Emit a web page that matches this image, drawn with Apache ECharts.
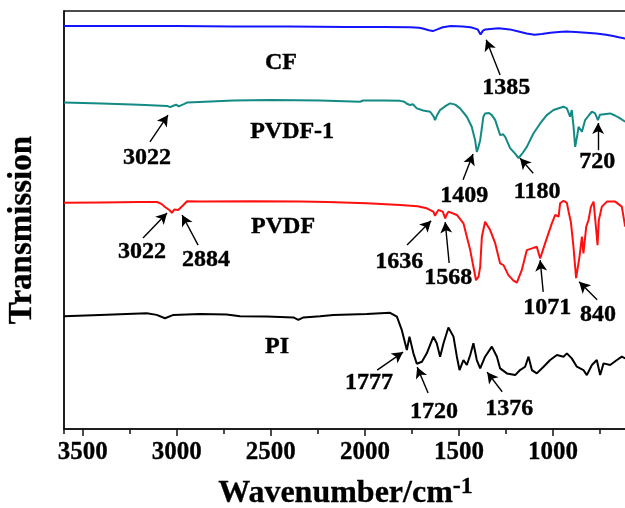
<!DOCTYPE html>
<html>
<head>
<meta charset="utf-8">
<script src="https://cdn.jsdelivr.net/npm/echarts@6/dist/echarts.min.js"></script>
<style>
  html, body { margin: 0; padding: 0; background: #fff; }
  #chart { width: 625px; height: 508px; }
</style>
</head>
<body>
<div id="chart"></div>
<script>
// spectra: [wavenumber, transmission (a.u., stacked)]
var cfData = [[3600, 96.4], [3300, 96.4], [3000, 96.4], [2700, 96.3], [2400, 96.3], [2100, 96.2], [1900, 96.2], [1760, 96.1], [1713, 96.0], [1692, 95.8], [1660, 95.4], [1639, 95.2], [1615, 95.6], [1586, 96.1], [1543, 96.4], [1480, 96.3], [1438, 96.1], [1400, 95.6], [1385, 94.4], [1372, 95.3], [1360, 95.6], [1289, 95.9], [1230, 95.6], [1183, 95.1], [1140, 94.6], [1098, 94.3], [1060, 94.5], [1014, 94.8], [970, 95.0], [929, 95.1], [880, 95.0], [823, 94.8], [770, 94.6], [717, 94.3], [680, 94.0], [650, 93.7], [616, 93.4]]

var pvdf1Data = [[3600, 78.1], [3400, 77.9], [3200, 77.6], [3052, 77.3], [3036, 77.0], [3026, 76.8], [3015, 77.4], [3004, 77.6], [2990, 77.2], [2983, 77.2], [2960, 77.8], [2946, 78.1], [2850, 78.3], [2700, 78.6], [2500, 78.7], [2238, 78.6], [2026, 78.3], [2010, 78.6], [1900, 78.6], [1813, 78.5], [1790, 78.3], [1777, 77.8], [1760, 77.5], [1745, 77.7], [1724, 76.7], [1690, 76.2], [1653, 75.9], [1635, 74.8], [1627, 73.9], [1615, 75.2], [1600, 76.3], [1570, 77.3], [1547, 77.9], [1520, 77.6], [1494, 76.7], [1458, 74.7], [1432, 72.3], [1414, 69.1], [1405, 66.3], [1396, 67.5], [1387, 69.1], [1370, 74.7], [1361, 75.5], [1340, 75.6], [1325, 75.1], [1307, 73.9], [1281, 70.3], [1265, 70.5], [1254, 69.9], [1228, 67.2], [1200, 65.8], [1183, 64.8], [1165, 65.8], [1139, 67.5], [1104, 70.7], [1068, 73.1], [1033, 75.1], [997, 76.3], [965, 76.8], [944, 77.1], [926, 76.7], [909, 74.7], [900, 76.3], [891, 72.5], [882, 67.5], [870, 70.5], [864, 72.3], [846, 71.1], [829, 73.9], [810, 75.0], [793, 75.9], [776, 75.5], [761, 73.9], [750, 75.2], [740, 75.5], [696, 75.5], [670, 75.0], [643, 74.3], [616, 73.5]]

var pvdfData = [[3600, 54.1], [3400, 54.2], [3200, 54.3], [3105, 54.3], [3080, 53.8], [3063, 53.1], [3040, 52.4], [3026, 51.7], [3014, 52.5], [3004, 52.9], [2993, 52.4], [2983, 52.2], [2965, 53.6], [2946, 54.5], [2877, 54.4], [2600, 54.5], [2345, 54.4], [2200, 54.3], [1990, 54.0], [1813, 53.6], [1720, 53.3], [1671, 52.8], [1636, 52.0], [1627, 51.0], [1618, 51.8], [1609, 52.4], [1586, 52.0], [1573, 50.4], [1565, 51.3], [1556, 52.0], [1511, 51.2], [1476, 49.2], [1458, 46.0], [1440, 42.8], [1423, 38.8], [1409, 35.6], [1396, 36.4], [1387, 38.8], [1378, 46.0], [1361, 49.6], [1334, 47.6], [1307, 44.4], [1281, 39.6], [1263, 39.2], [1237, 36.8], [1210, 35.5], [1192, 35.0], [1166, 38.0], [1139, 42.8], [1112, 43.2], [1086, 43.6], [1068, 40.8], [1042, 44.4], [1006, 49.2], [988, 51.2], [970, 50.8], [962, 54.0], [944, 54.6], [926, 54.1], [917, 52.0], [905, 49.6], [891, 43.6], [877, 36.1], [859, 41.2], [846, 46.0], [838, 42.0], [823, 48.4], [811, 50.0], [798, 53.2], [784, 54.4], [770, 47.6], [763, 44.0], [756, 50.0], [740, 53.2], [713, 54.4], [669, 54.4], [634, 53.2], [616, 48.4]]

var piData = [[3600, 27.0], [3409, 27.3], [3160, 27.7], [3107, 27.3], [3063, 26.5], [3018, 27.3], [2877, 27.5], [2735, 27.4], [2664, 27.0], [2522, 26.9], [2380, 26.7], [2354, 26.1], [2327, 26.7], [2238, 27.0], [2168, 27.3], [1990, 27.5], [1866, 27.8], [1830, 26.9], [1804, 23.7], [1777, 18.9], [1763, 22.1], [1742, 18.1], [1724, 15.6], [1697, 16.1], [1671, 18.1], [1636, 22.1], [1618, 20.5], [1600, 17.3], [1582, 20.5], [1556, 24.3], [1529, 22.1], [1511, 17.3], [1497, 14.1], [1476, 16.5], [1458, 15.3], [1440, 17.7], [1423, 20.5], [1405, 16.5], [1387, 14.5], [1361, 17.3], [1325, 19.7], [1298, 17.3], [1281, 14.5], [1245, 13.3], [1201, 12.9], [1175, 14.1], [1148, 14.9], [1130, 17.3], [1112, 14.1], [1086, 13.3], [1050, 14.9], [1015, 16.5], [979, 17.7], [944, 17.3], [926, 18.1], [900, 16.9], [873, 14.9], [838, 14.1], [820, 12.9], [793, 15.3], [767, 16.5], [749, 12.9], [731, 15.7], [696, 15.3], [660, 16.5], [634, 17.3], [616, 16.9]]

// text annotations: [wavenumber, transmission, text]
var annoLabels = [
  [2446, 87.6, 'CF'], [1249, 81.6, '1385'],
  [2387, 71.1, 'PVDF-1'], [3158, 64.8, '3022'], [1472, 55.7, '1409'], [1084, 56.7, '1180'], [765, 63.9, '720'],
  [2435, 48.3, 'PVDF'], [3185, 42.3, '3022'], [2845, 40.4, '2884'], [1818, 40.0, '1636'], [1557, 36.1, '1568'], [1031, 28.9, '1071'], [760, 27.3, '840'],
  [2467, 19.6, 'PI'], [1978, 11.0, '1777'], [1632, 4.1, '1720'], [1233, 4.8, '1376']
]
// arrows: [fromW, fromT, toW, toT]
var annoArrows = [
  [1281, 84.7, 1355, 93.1],
  [3143, 68.7, 3047, 75.1], [1478, 59.6, 1425, 65.8], [1105, 61.2, 1175, 64.8], [760, 66.7, 760, 73.2],
  [3180, 45.7, 3052, 51.7], [2887, 44.0, 2972, 51.2], [1776, 44.0, 1648, 49.8], [1552, 39.7, 1573, 49.5],
  [1052, 32.8, 1068, 40.4], [765, 30.9, 861, 35.2],
  [1935, 14.1, 1797, 18.4], [1664, 8.6, 1722, 14.8], [1270, 8.9, 1350, 13.6]
]

var font = 'Liberation Serif, Times New Roman, serif'
var chart = echarts.init(document.getElementById('chart'))

function spectrum (name, data, color) {
  return {
    name: name,
    type: 'line',
    data: data,
    showSymbol: false,
    symbol: 'none',
    lineStyle: { color: color, width: 2 },
    z: 3
  }
}

var option = {
  animation: false,
  backgroundColor: '#fff',
  grid: {
    left: 64, top: 11, bottom: 79, width: 583,
    outerBoundsMode: 'none',
    containLabel: false,
    show: true, borderColor: '#111', borderWidth: 1.5, backgroundColor: 'transparent'
  },
  xAxis: [{
    type: 'value', inverse: true, min: 500, max: 3600, interval: 500, position: 'bottom',
    axisLine: { lineStyle: { color: '#111', width: 1.5 } },
    axisTick: { inside: false, length: 7, lineStyle: { color: '#111', width: 1.5 } },
    axisLabel: {
      showMaxLabel: false, showMinLabel: false, margin: 11,
      formatter: function (v) { return String(v) },
      color: '#000', fontFamily: font, fontWeight: 'bold', fontSize: 25,
      textBorderColor: '#000', textBorderWidth: 0.3
    },
    splitLine: { show: false },
    name: 'Wavenumber/cm{sup|-1}',
    nameLocation: 'middle',
    nameGap: 46,
    nameTextStyle: {
      color: '#000', fontFamily: font, fontWeight: 'bold', fontSize: 32, padding: [0, 20, 0, 0],
      textBorderColor: '#000', textBorderWidth: 0.3,
      rich: { sup: { fontFamily: font, fontWeight: 'bold', fontSize: 24, color: '#000', verticalAlign: 'bottom', padding: [0, 0, 14, 0], textBorderColor: '#000', textBorderWidth: 0.3 } }
    }
  }, {
    type: 'value', inverse: true, min: 500, max: 3600, interval: 250, position: 'bottom',
    axisLine: { show: false },
    axisTick: { length: 5, lineStyle: { color: '#111', width: 1.5 } },
    axisLabel: { show: false },
    splitLine: { show: false }
  }],
  yAxis: {
    type: 'value', min: 0, max: 100,
    axisLine: { show: true, lineStyle: { color: '#111', width: 1.5 } },
    axisTick: { show: false },
    axisLabel: { show: false },
    splitLine: { show: false },
    name: 'Transmission',
    nameLocation: 'middle',
    nameGap: 25,
    nameTextStyle: {
      color: '#000', fontFamily: font, fontWeight: 'bold', fontSize: 33, padding: [0, 20, 0, 0],
      textBorderColor: '#000', textBorderWidth: 0.3
    }
  },
  series: [
    spectrum('CF', cfData, '#1414ff'),
    spectrum('PVDF-1', pvdf1Data, '#138a84'),
    spectrum('PVDF', pvdfData, '#ff1010'),
    spectrum('PI', piData, '#000000'),
    {
      name: 'labels',
      type: 'scatter',
      data: annoLabels,
      symbolSize: 1,
      itemStyle: { color: 'rgba(0,0,0,0)' },
      label: {
        show: true, position: 'inside', opacity: 1,
        formatter: function (p) { return p.data[2] },
        color: '#000', fontFamily: font, fontWeight: 'bold', fontSize: 24,
        textBorderColor: '#000', textBorderWidth: 0.4
      },
      markLine: {
        silent: true,
        symbol: ['none', 'arrow'],
        symbolSize: [9, 11],
        label: { show: false },
        lineStyle: { color: '#000', width: 1.4, type: 'solid' },
        data: annoArrows.map(function (a) {
          return [{ coord: [a[0], a[1]] }, { coord: [a[2], a[3]] }]
        })
      },
      z: 5
    }
  ]
}
chart.setOption(option)
</script>
</body>
</html>
